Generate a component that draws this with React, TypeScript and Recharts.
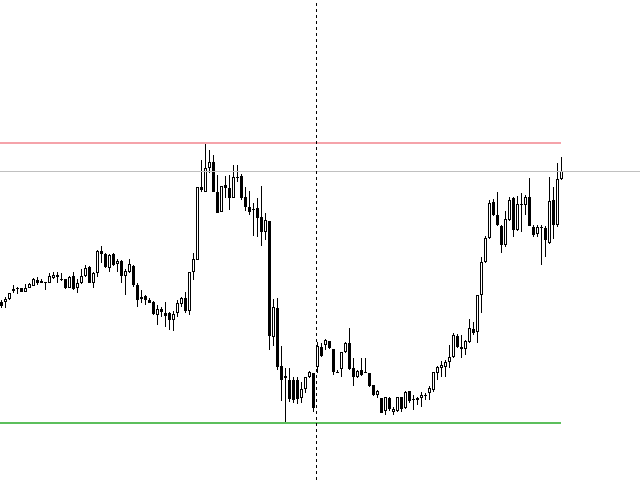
import React from 'react'
import { ComposedChart, Bar, XAxis, YAxis, ReferenceLine } from 'recharts'

// price in points, one candle per bar
const opens = [
  178, 178, 181, 191, 191, 192, 188, 192, 194, 200,
  199, 198, 197, 202, 205, 201, 201, 192, 204, 192,
  197, 204, 213, 197, 207, 229, 226, 212, 226, 216,
  219, 204, 208, 214, 195, 181, 184, 180, 178, 165,
  171, 167, 167, 160, 167, 176, 182, 169, 208, 220,
  293, 288, 312, 318, 288, 268, 295, 292, 282, 302,
  304, 283, 273, 271, 272, 263, 248, 259, 143, 172,
  114, 102, 100, 100, 100, 82, 91, 103, 107, 113,
  133, 135, 139, 131, 108, 111, 128, 137, 112, 103,
  110, 108, 107, 95, 85, 82, 69, 82, 68, 69,
  83, 72, 89, 81, 82, 82, 85, 87, 90, 107,
  112, 113, 118, 123, 144, 133, 131, 138, 151, 148,
  185, 218, 242, 278, 265, 254, 235, 260, 282, 250,
  276, 275, 283, 253, 246, 253, 252, 237, 280, 255,
  301,
]
const highs = [
  180, 183, 187, 195, 193, 192, 196, 197, 202, 203,
  201, 198, 207, 208, 208, 207, 201, 204, 208, 201,
  211, 215, 214, 208, 230, 234, 227, 226, 227, 221,
  220, 211, 221, 215, 197, 190, 185, 182, 179, 175,
  173, 178, 168, 169, 180, 183, 188, 208, 227, 293,
  320, 337, 330, 325, 305, 294, 304, 305, 315, 315,
  306, 293, 289, 277, 282, 294, 267, 259, 181, 182,
  134, 112, 112, 103, 103, 98, 103, 109, 107, 138,
  137, 141, 139, 131, 110, 128, 138, 152, 122, 110,
  122, 122, 107, 95, 90, 82, 83, 83, 73, 83,
  83, 89, 89, 85, 83, 88, 87, 94, 108, 114,
  119, 120, 135, 147, 146, 145, 140, 161, 158, 185,
  223, 244, 280, 281, 288, 255, 269, 283, 283, 284,
  287, 285, 302, 255, 255, 255, 254, 303, 293, 317,
  323,
]
const lows = [
  172, 172, 180, 187, 186, 188, 188, 192, 194, 195,
  197, 190, 197, 201, 197, 199, 191, 192, 190, 187,
  196, 203, 197, 192, 203, 217, 212, 208, 214, 208,
  197, 185, 207, 193, 173, 177, 175, 177, 165, 155,
  163, 153, 150, 149, 163, 173, 167, 165, 200, 220,
  288, 288, 307, 288, 267, 268, 282, 270, 282, 298,
  280, 269, 265, 244, 243, 234, 240, 130, 134, 110,
  79, 57, 78, 77, 76, 77, 87, 102, 68, 107,
  123, 130, 131, 105, 107, 103, 127, 110, 94, 102,
  104, 107, 93, 84, 82, 67, 65, 69, 65, 68,
  68, 71, 77, 70, 75, 73, 80, 80, 88, 100,
  103, 103, 112, 122, 132, 122, 125, 137, 145, 137,
  167, 217, 241, 264, 254, 227, 233, 259, 243, 249,
  248, 265, 254, 243, 243, 215, 223, 236, 241, 253,
  300,
]
const closes = [
  174, 181, 187, 189, 192, 188, 192, 196, 201, 197,
  197, 197, 204, 205, 203, 200, 192, 203, 191, 197,
  204, 212, 197, 207, 229, 226, 213, 225, 215, 219,
  204, 209, 216, 195, 180, 183, 180, 177, 166, 171,
  168, 164, 160, 166, 177, 182, 169, 208, 221, 293,
  290, 312, 318, 288, 267, 294, 292, 282, 303, 303,
  282, 273, 268, 270, 262, 248, 260, 144, 173, 113,
  100, 104, 81, 80, 81, 91, 103, 108, 72, 134,
  124, 140, 132, 108, 107, 128, 137, 111, 103, 109,
  105, 107, 94, 85, 89, 67, 83, 71, 71, 83,
  71, 88, 79, 80, 80, 85, 84, 92, 108, 113,
  115, 118, 123, 145, 133, 131, 139, 152, 147, 185,
  218, 242, 277, 265, 255, 235, 261, 280, 250, 276,
  275, 283, 254, 245, 253, 252, 240, 279, 255, 301,
  309,
]

const resistance = 337
const support = 57
const bid = 308.5
const cursorBar = 79

const data = opens.map((o, i) => ({
  i,
  open: o,
  high: highs[i],
  low: lows[i],
  close: closes[i],
  range: [lows[i], highs[i]],
}))

const lastBar = data.length - 1

const Candle = (props: any) => {
  const { x, y, width, height, payload } = props
  if (!payload) return null
  const { open, close, high, low } = payload
  const cx = Math.round(x + width / 2 - 0.5) + 0.5
  const toY = (v: number) => y + ((high - v) / (high - low)) * height
  const top = Math.round(toY(Math.max(open, close)))
  const bottom = Math.round(toY(Math.min(open, close)))
  const bull = close > open
  const h = bottom - top

  return (
    <g>
      <line x1={cx} x2={cx} y1={Math.round(y)} y2={Math.round(y + height)} stroke="#000" strokeWidth={1} />
      {bull ? (
        h > 1 ? (
          <rect x={cx - 1} y={top + 0.5} width={2} height={h - 1} fill="#fff" stroke="#000" strokeWidth={1} />
        ) : (
          <line x1={cx - 1.5} x2={cx + 1.5} y1={top + 0.5} y2={top + 0.5} stroke="#000" strokeWidth={1} />
        )
      ) : (
        <rect x={cx - 1.5} y={top} width={3} height={Math.max(h, 1)} fill="#000" />
      )}
    </g>
  )
}

export default function App() {
  return (
    <div style={{ position: 'absolute', left: 0, top: 0, width: 640, height: 480, background: '#fff' }}>
      <ComposedChart width={640} height={480} data={data} margin={{ top: 0, right: 0, bottom: 0, left: 0 }}>
        <XAxis dataKey="i" type="number" domain={[-0.125, 159.875]} allowDataOverflow hide />
        <YAxis type="number" domain={[0, 480]} allowDataOverflow hide />
        <ReferenceLine
          segment={[{ x: -0.125, y: resistance }, { x: lastBar + 0.125, y: resistance }]}
          stroke="#f5a3aa"
          strokeWidth={2}
          ifOverflow="visible"
        />
        <ReferenceLine
          segment={[{ x: -0.125, y: support }, { x: lastBar + 0.125, y: support }]}
          stroke="#5cbf5c"
          strokeWidth={2}
          ifOverflow="visible"
        />
        <ReferenceLine y={bid} stroke="#c0c0c0" strokeWidth={1} ifOverflow="visible" />
        <Bar dataKey="range" barSize={3} shape={<Candle />} isAnimationActive={false} />
        <ReferenceLine x={cursorBar} stroke="#000" strokeWidth={1} strokeDasharray="3 3" ifOverflow="visible" />
      </ComposedChart>
    </div>
  )
}
